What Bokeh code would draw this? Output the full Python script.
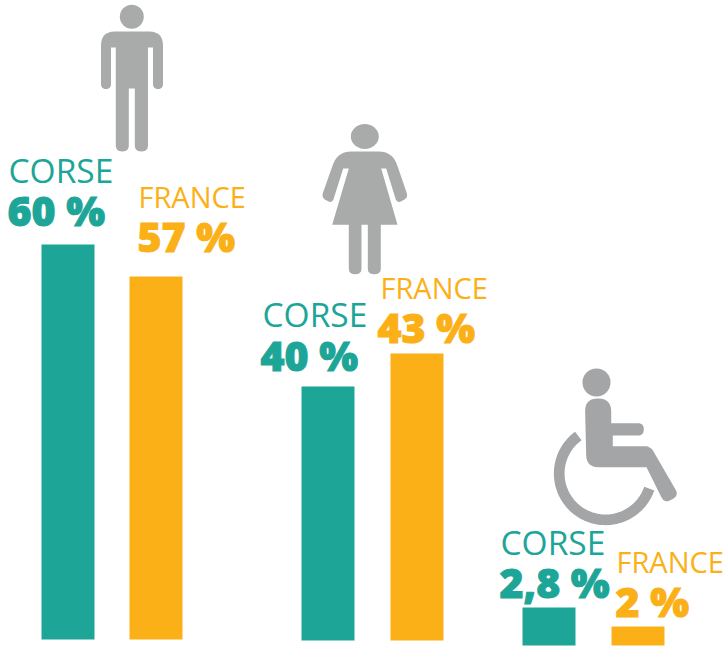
import numpy as np
from bokeh.plotting import figure
from bokeh.models import Range1d, ColumnDataSource
from bokeh.core.properties import value
from bokeh.embed import file_html
from bokeh.resources import INLINE

# --- data ---
series = ["CORSE", "FRANCE"]
corse_labels = ["60 %", "40 %", "2,8 %"]
france_labels = ["57 %", "43 %", "2 %"]
# drawn bar heights (the picture's bars are not strictly proportional)
corse_heights = [395, 254, 38]
france_heights = [363, 287, 19]

# --- layout ---
TEAL = "#1da598"
ORANGE = "#fbb017"
GREY = "#a9abaa"
W, H = 725, 646
corse_x = [67.5, 327.5, 548.5]
france_x = [155.5, 416.5, 637.5]
baseline = [639, 640, 645]
BAR_W = 53

corse_name_pos = [(10, 183), (264, 327), (502, 555)]
corse_val_pos = [(8, 226), (261, 371), (500, 598)]
france_name_pos = [(140, 208), (382, 299), (618, 573)]
france_val_pos = [(138, 252), (378, 343), (616, 617)]

p = figure(width=W, height=H, output_backend="svg", toolbar_location=None,
           x_range=Range1d(0, 725), y_range=Range1d(646, 0),
           min_border=0, outline_line_color=None, background_fill_color="white")
p.axis.visible = False
p.grid.visible = False


def bars(xs, heights, color):
    src = ColumnDataSource(dict(x=xs, bottom=baseline, h=heights,
                                top=[b - h for b, h in zip(baseline, heights)]))
    p.vbar(x="x", width=BAR_W, bottom="bottom", top="top", source=src,
           fill_color=color, line_color=None)


bars(corse_x, corse_heights, TEAL)
bars(france_x, france_heights, ORANGE)


def names(pos, name, color, size):
    p.text([q[0] for q in pos], [q[1] for q in pos], text=[name] * len(pos),
           text_font=value("Open Sans"), text_font_size=f"{size}px", text_color=color,
           text_baseline="alphabetic", text_align="left",
           x_offset=-2, y_offset=-0.41 * size)


def vals(pos, labels, color, size=41):
    p.text([q[0] for q in pos], [q[1] for q in pos], text=labels,
           text_font=value("Open Sans ExtraBold, Open Sans"), text_font_style="bold",
           text_font_size=f"{size}px", text_color=color, text_outline_color=color,
           text_baseline="alphabetic", text_align="left",
           x_offset=-1, y_offset=-0.41 * size)


names(corse_name_pos, series[0], TEAL, 33.5)
names(france_name_pos, series[1], ORANGE, 29)
vals(corse_val_pos, corse_labels, TEAL)
vals(france_val_pos, france_labels, ORANGE)


# --- pictograms ---
def rounded(verts, n=8):
    xs, ys = [], []
    m = len(verts)
    for i, (x, y, r) in enumerate(verts):
        if r == 0:
            xs.append(x); ys.append(y)
            continue
        a = np.array(verts[i - 1][:2], float)
        b = np.array([x, y], float)
        c = np.array(verts[(i + 1) % m][:2], float)
        u = (a - b) / np.linalg.norm(a - b)
        v = (c - b) / np.linalg.norm(c - b)
        s, e = b + u * r, b + v * r
        for t in np.linspace(0, 1, n):
            q = (1 - t) ** 2 * s + 2 * t * (1 - t) * b + t ** 2 * e
            xs.append(q[0]); ys.append(q[1])
    return xs, ys


def shape(verts, color=GREY):
    xs, ys = rounded(verts)
    p.patch(xs, ys, fill_color=color, line_color=None)


# man
p.ellipse([131.3], [16.3], width=24, height=24, fill_color=GREY, line_color=None)
shape([(100.5, 31, 14), (162.5, 31, 14), (162.5, 88.5, 5), (152.5, 88.5, 5),
       (152.5, 47, 0), (147.5, 47, 0), (147.5, 151, 6.5), (134.3, 151, 6.5),
       (134.3, 88, 0), (128.3, 88, 0), (128.3, 151, 6.5), (115.3, 151, 6.5),
       (115.3, 47, 0), (110.5, 47, 0), (110.5, 88.5, 5), (100.5, 88.5, 5)])

# woman
p.ellipse([364.3], [136], width=28, height=25, fill_color=GREY, line_color=None)
shape([(337, 151, 14), (392, 151, 14), (407.8, 197, 5), (396.5, 203, 5),
       (385.7, 168, 0), (380.7, 168, 0), (397, 224.3, 0), (331.7, 224.3, 0),
       (348.3, 168, 0), (342.7, 168, 0), (331.7, 203, 5), (320.8, 197, 5)])
shape([(348.3, 222, 0), (361, 222, 0), (361, 273.7, 6), (348.3, 273.7, 6)])
shape([(367.3, 222, 0), (380.3, 222, 0), (380.3, 273.7, 6), (367.3, 273.7, 6)])

# wheelchair
WG = "#a4a5a7"
p.ellipse([596], [382], width=28, height=28, fill_color=WG, line_color=None)
shape([(584.3, 398, 13), (610.7, 398, 13), (610.7, 422.7, 0), (643.3, 422.7, 6),
       (643.3, 435, 6), (612.3, 435, 0), (612.3, 445.7, 0), (650, 445.7, 6),
       (678.5, 495, 7), (664, 503, 7), (646, 466.7, 0), (586, 466.7, 12)], WG)
ang = np.radians(np.linspace(19, 234, 80))
p.line(605 + 46.3 * np.cos(ang), 473 + 46.3 * np.sin(ang), line_width=10.7,
       line_color=WG, line_cap="butt")

open("out.html", "w").write(file_html(p, INLINE))
